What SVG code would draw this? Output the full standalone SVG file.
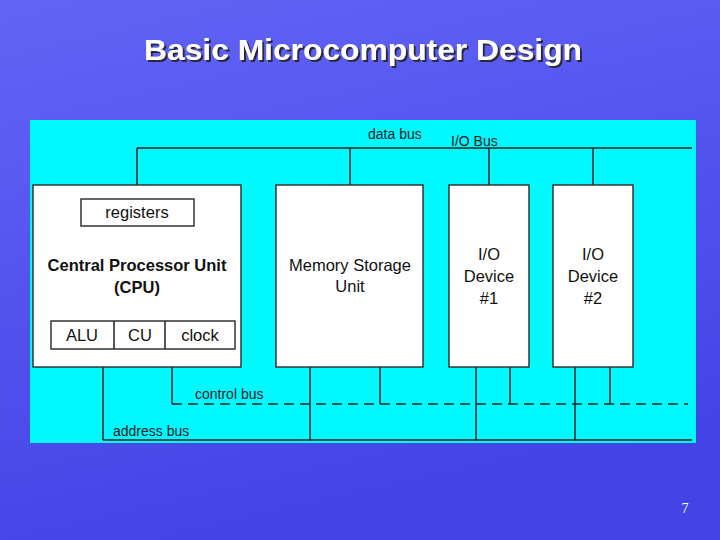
<svg xmlns="http://www.w3.org/2000/svg" width="720" height="540" viewBox="0 0 720 540">
<defs>
<linearGradient id="bg" x1="0" y1="0" x2="0.3" y2="1"><stop offset="0" stop-color="#6264f6"/><stop offset="1" stop-color="#4444e6"/></linearGradient>
<filter id="sh" x="-5%" y="-20%" width="110%" height="140%"><feDropShadow dx="2" dy="2" stdDeviation="0.5" flood-color="#222" flood-opacity="0.9"/></filter>
</defs>
<style>
.box{fill:#fff;stroke:#333;stroke-width:1.5}
.ln{stroke:#222;stroke-width:1.5;fill:none}
.t{font-family:"Liberation Sans",Arial,sans-serif;fill:#111;text-anchor:middle;font-size:16.5px}
.s{font-family:"Liberation Sans",Arial,sans-serif;fill:#222;font-size:14px}
</style>
<rect width="720" height="540" fill="url(#bg)"/>
<text x="363" y="60" font-family="Liberation Sans,Arial,sans-serif" font-size="29" font-weight="bold" fill="#fff" text-anchor="middle" textLength="438" lengthAdjust="spacingAndGlyphs" filter="url(#sh)">Basic Microcomputer Design</text>
<rect x="30" y="120" width="666" height="323" fill="#00f8ff"/>
<g id="connectors">
<path class="ln" d="M137 148H692M137 148V185M350 148V185M489 148V185M593 148V185"/>
<path class="ln" stroke-dasharray="10,6" d="M172 404H688"/>
<path class="ln" d="M172 367V404M380 367V404M510 367V404M610 367V404"/>
<path class="ln" d="M103 440H692M103 367V440M310 367V440M476 367V440M575 367V440"/>
<text class="s" x="368" y="139">data bus</text>
<text class="s" x="451" y="146" font-size="15" fill="#111">I/O Bus</text>
<text class="s" x="195" y="399">control bus</text>
<text class="s" x="113" y="436">address bus</text>
</g>
<g id="cpu">
<rect class="box" x="33" y="185" width="208" height="182"/>
<rect class="box" x="81" y="199" width="113" height="27"/>
<text class="t" x="137" y="218">registers</text>
<text class="t" x="137" y="271" font-weight="bold">Central Processor Unit</text>
<text class="t" x="137" y="293" font-weight="bold">(CPU)</text>
<rect class="box" x="51" y="321" width="184" height="28"/>
<path class="ln" d="M114 321V349M165 321V349"/>
<text class="t" x="82" y="341">ALU</text>
<text class="t" x="140" y="341">CU</text>
<text class="t" x="200" y="341">clock</text>
</g>
<g id="memory">
<rect class="box" x="276" y="185" width="147" height="182"/>
<text class="t" x="350" y="271">Memory Storage</text>
<text class="t" x="350" y="292">Unit</text>
</g>
<g id="io1">
<rect class="box" x="449" y="185" width="80" height="182"/>
<text class="t" x="489" y="260">I/O</text>
<text class="t" x="489" y="282">Device</text>
<text class="t" x="489" y="304">#1</text>
</g>
<g id="io2">
<rect class="box" x="553" y="185" width="80" height="182"/>
<text class="t" x="593" y="260">I/O</text>
<text class="t" x="593" y="282">Device</text>
<text class="t" x="593" y="304">#2</text>
</g>
<text x="685" y="513" font-family="Liberation Serif,serif" font-size="14" fill="#fff" text-anchor="middle">7</text>
</svg>
